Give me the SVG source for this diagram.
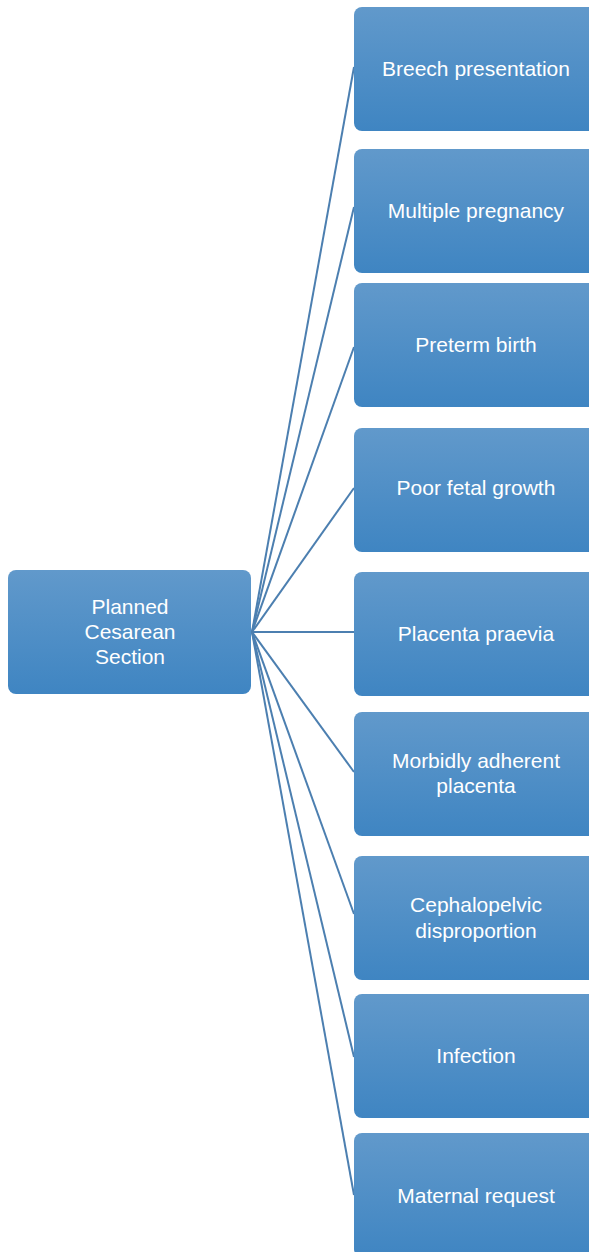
<svg xmlns="http://www.w3.org/2000/svg" width="589" height="1252" viewBox="0 0 589 1252">
<defs>
<linearGradient id="g" x1="0" y1="0" x2="0" y2="1">
<stop offset="0" stop-color="#6199cb"/>
<stop offset="1" stop-color="#3f85c2"/>
</linearGradient>
<style>
.box{fill:url(#g);}
.t{font-family:"Liberation Sans",Arial,sans-serif;font-size:21px;fill:#ffffff;text-anchor:middle;}
.c{stroke:#4c7fb0;stroke-width:2;fill:none;}
</style>
</defs>
<rect width="589" height="1252" fill="#ffffff"/>
<g id="connectors">
<line class="c" x1="252" y1="632" x2="354" y2="67"/>
<line class="c" x1="252" y1="632" x2="354" y2="207"/>
<line class="c" x1="252" y1="632" x2="354" y2="347"/>
<line class="c" x1="252" y1="632" x2="354" y2="488"/>
<line class="c" x1="252" y1="632" x2="354" y2="632"/>
<line class="c" x1="252" y1="632" x2="354" y2="772"/>
<line class="c" x1="252" y1="632" x2="354" y2="914"/>
<line class="c" x1="252" y1="632" x2="354" y2="1057"/>
<line class="c" x1="252" y1="632" x2="354" y2="1195"/>
</g>
<g id="center">
<rect class="box" x="8" y="570" width="243" height="124" rx="8"/>
<text class="t" x="130" y="614">Planned</text>
<text class="t" x="130" y="639">Cesarean</text>
<text class="t" x="130" y="664">Section</text>
</g>
<g id="n1">
<rect class="box" x="354" y="7" width="244" height="124" rx="8"/>
<text class="t" x="476" y="76">Breech presentation</text>
</g>
<g id="n2">
<rect class="box" x="354" y="149" width="244" height="124" rx="8"/>
<text class="t" x="476" y="218">Multiple pregnancy</text>
</g>
<g id="n3">
<rect class="box" x="354" y="283" width="244" height="124" rx="8"/>
<text class="t" x="476" y="352">Preterm birth</text>
</g>
<g id="n4">
<rect class="box" x="354" y="428" width="244" height="124" rx="8"/>
<text class="t" x="476" y="495">Poor fetal growth</text>
</g>
<g id="n5">
<rect class="box" x="354" y="572" width="244" height="124" rx="8"/>
<text class="t" x="476" y="641">Placenta praevia</text>
</g>
<g id="n6">
<rect class="box" x="354" y="712" width="244" height="124" rx="8"/>
<text class="t" x="476" y="768">Morbidly adherent</text>
<text class="t" x="476" y="793">placenta</text>
</g>
<g id="n7">
<rect class="box" x="354" y="856" width="244" height="124" rx="8"/>
<text class="t" x="476" y="912">Cephalopelvic</text>
<text class="t" x="476" y="938">disproportion</text>
</g>
<g id="n8">
<rect class="box" x="354" y="994" width="244" height="124" rx="8"/>
<text class="t" x="476" y="1063">Infection</text>
</g>
<g id="n9">
<rect class="box" x="354" y="1133" width="244" height="124" rx="8"/>
<text class="t" x="476" y="1203">Maternal request</text>
</g>
</svg>
